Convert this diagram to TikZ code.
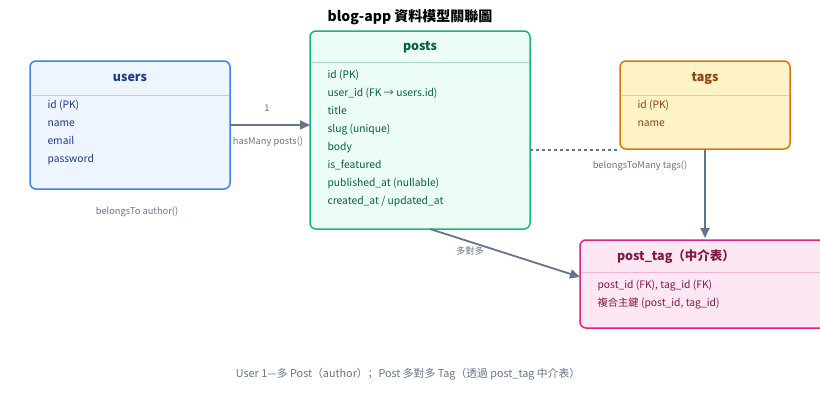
\documentclass[tikz,border=0pt]{standalone}
\usepackage{fontspec}
\setmainfont{Noto Sans CJK SC}
\usetikzlibrary{arrows.meta}
\definecolor{ub}{HTML}{3B82F6}\definecolor{uf}{HTML}{EEF5FF}\definecolor{ut}{HTML}{1E3A8A}
\definecolor{pb}{HTML}{10B981}\definecolor{pf}{HTML}{ECFDF5}\definecolor{pt}{HTML}{065F46}
\definecolor{tb}{HTML}{D97706}\definecolor{tf}{HTML}{FEF3C7}\definecolor{tt}{HTML}{92400E}
\definecolor{jb}{HTML}{DB2777}\definecolor{jf}{HTML}{FCE7F3}\definecolor{jt}{HTML}{831843}
\definecolor{ar}{HTML}{64748B}
\tikzset{
 box/.style={draw,line width=1.5pt,rounded corners=6pt},
 hd/.style={font=\bfseries\fontsize{12.5}{14}\selectfont},
 fld/.style={anchor=west,text height=8pt,text depth=2.5pt,font=\fontsize{10.3}{12}\selectfont},
 lbl/.style={text=ar,font=\fontsize{9.3}{11}\selectfont},
 conn/.style={draw=ar,line width=1.8pt,-{Triangle[length=10pt,width=9pt]}}
}
\begin{document}
\begin{tikzpicture}[x=1pt,y=-1pt]
\useasboundingbox (0,0) rectangle (820,400);
\clip (0,0) rectangle (820,400);
\node[font=\bfseries\fontsize{14}{16}\selectfont] (title) at (410,17) {blog-app 資料模型關聯圖};
\node[lbl] (l1) at (267,108) {1};
\node[lbl] (l2) at (268,142) {hasMany posts()};
% users
\draw[box,draw=ub,fill=uf] (30,61) rectangle (230,189);
\coordinate (uR) at (230,125);
\draw[ub!40,line width=0.8pt] (31.5,95) -- (228.5,95);
\node[hd,text=ut] (uh) at (130,78) {users};
\foreach \t [count=\i] in {id (PK),name,email,password}
  \node[fld,text=ut] (u\i) at (44,88+18*\i) {\t};
% posts
\draw[box,draw=pb,fill=pf] (310,31) rectangle (530,229);
\draw[pb!40,line width=0.8pt] (311.5,62) -- (528.5,62);
\node[hd,text=pt] (ph) at (420,47) {posts};
\foreach \t [count=\i] in {id (PK),user\_id (FK → users.id),title,slug (unique),body,is\_featured,published\_at (nullable),created\_at / updated\_at}
  \node[fld,text=pt] (p\i) at (324,58+18*\i) {\t};
\coordinate (pL) at (310,125);
\coordinate (pR) at (530,150);
\coordinate (pB) at (430,229);
% tags
\draw[box,draw=tb,fill=tf] (620,61) rectangle (790,149);
\draw[tb!40,line width=0.8pt] (621.5,95) -- (788.5,95);
\node[hd,text=tt] (th) at (705,78) {tags};
\node[fld,text=tt] (t1) at (634,106) {id (PK)};
\node[fld,text=tt] (t2) at (634,124) {name};
\coordinate (tL) at (620,150);
\coordinate (tB) at (705,150);
% post_tag
\draw[box,draw=jb,fill=jf] (580,240) rectangle (840,328);
\draw[jb!35,line width=0.8pt] (581.5,272) -- (838,272);
\node[hd,text=jt] (jh) at (676,257) {post\_tag（中介表）};
\node[fld,text=jt] (j1) at (594,286) {post\_id (FK), tag\_id (FK)};
\node[fld,text=jt] (j2) at (594,304) {複合主鍵 (post\_id, tag\_id)};
\coordinate (jT) at (705,238);
\coordinate (jL) at (580,277);
% connectors
\draw[conn] (uR) -- (pL);
\draw[ar,line width=1.2pt,dash pattern=on 3pt off 3pt] (pR) -- (tL);
\draw[conn] (tB) -- (jT);
\draw[conn] (pB) -- (jL);
\node[lbl] (l3) at (640,166) {belongsToMany tags()};
\node[lbl] (l4) at (470,251) {多對多};
\node[lbl] (l5) at (137,212) {belongsTo author()};
\node[lbl,font=\fontsize{10.8}{12}\selectfont] (ft) at (408,374) {User 1—多 Post（author）；Post 多對多 Tag（透過 post\_tag 中介表）};
\end{tikzpicture}
\end{document}
